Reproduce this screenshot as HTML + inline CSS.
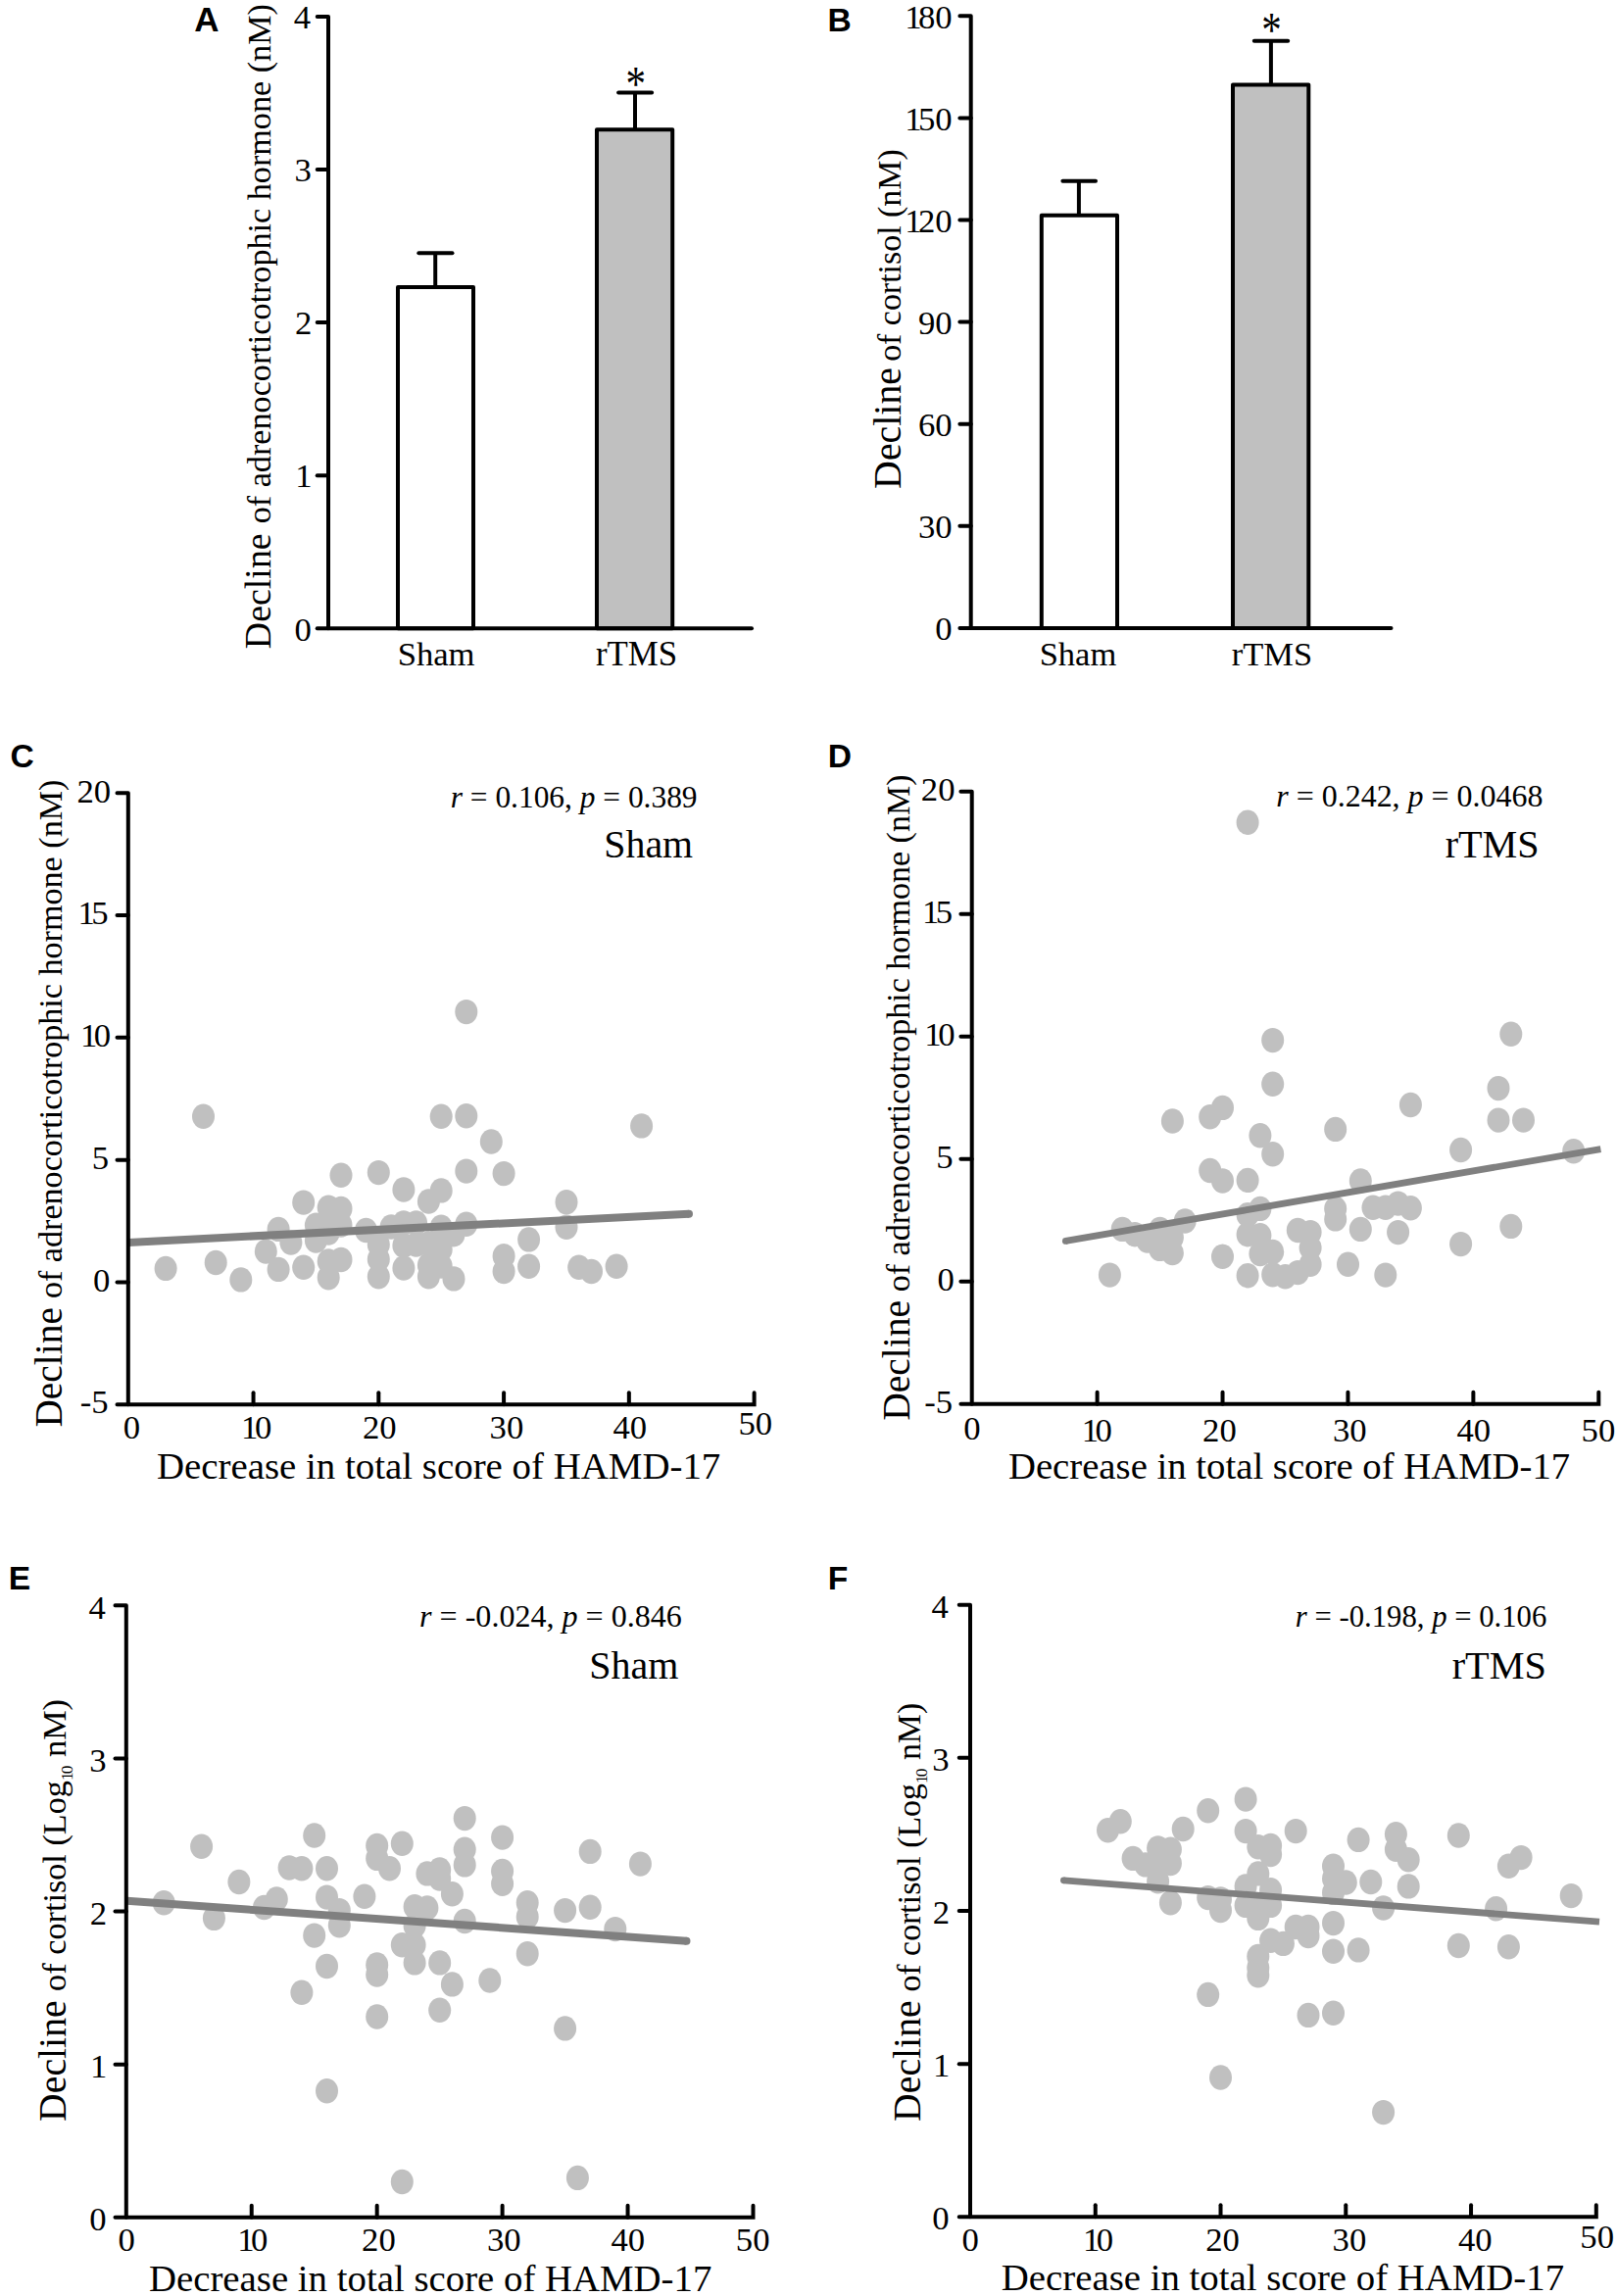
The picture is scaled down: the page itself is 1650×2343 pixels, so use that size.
<!DOCTYPE html>
<html lang="en"><head><meta charset="utf-8"><title>Figure</title>
<style>
html,body{margin:0;padding:0;background:#fff;}
body{width:1650px;height:2343px;overflow:hidden;}
svg{display:block;}
.ts{font-family:"Liberation Serif",serif;fill:#000;}
.ti{font-family:"Liberation Serif",serif;font-style:italic;fill:#000;}
.sb{font-family:"Liberation Sans",sans-serif;font-weight:bold;fill:#000;}
</style></head><body>
<svg width="1650" height="2343" viewBox="0 0 1650 2343">
<rect width="1650" height="2343" fill="#fff"/>
<text class="sb" x="198.32" y="32.30" font-size="35.00">A</text>
<text class="sb" x="844.43" y="32.40" font-size="33.60">B</text>
<text class="sb" x="10.56" y="782.70" font-size="33.60">C</text>
<text class="sb" x="844.63" y="782.90" font-size="33.60">D</text>
<text class="sb" x="8.63" y="1622.30" font-size="33.60">E</text>
<text class="sb" x="844.63" y="1621.80" font-size="33.60">F</text>
<path d="M323.70,16.90 H335.00 V641.30" fill="none" stroke="#000" stroke-width="4.0" stroke-linecap="round" stroke-linejoin="round"/>
<rect x="406.00" y="293.00" width="77.00" height="348.30" fill="#fff" stroke="#000" stroke-width="4.0" stroke-linejoin="round"/>
<rect x="609.00" y="132.20" width="77.20" height="509.10" fill="#c0c0c0" stroke="#000" stroke-width="4.0" stroke-linejoin="round"/>
<line x1="444.20" y1="293.00" x2="444.20" y2="258.20" stroke="#000" stroke-width="4.0" stroke-linecap="butt"/>
<line x1="427.30" y1="258.20" x2="461.50" y2="258.20" stroke="#000" stroke-width="4.0" stroke-linecap="round"/>
<line x1="648.00" y1="132.20" x2="648.00" y2="94.40" stroke="#000" stroke-width="4.0" stroke-linecap="butt"/>
<line x1="631.10" y1="94.40" x2="665.10" y2="94.40" stroke="#000" stroke-width="4.0" stroke-linecap="round"/>
<line x1="323.70" y1="641.30" x2="767.00" y2="641.30" stroke="#000" stroke-width="4.0" stroke-linecap="round"/>
<text class="ts" x="299.67" y="29.10" font-size="34.70">4</text>
<line x1="323.70" y1="173.00" x2="335.00" y2="173.00" stroke="#000" stroke-width="4.0" stroke-linecap="round"/>
<text class="ts" x="300.54" y="185.20" font-size="34.70">3</text>
<line x1="323.70" y1="329.10" x2="335.00" y2="329.10" stroke="#000" stroke-width="4.0" stroke-linecap="round"/>
<text class="ts" x="301.06" y="341.30" font-size="34.70">2</text>
<line x1="323.70" y1="485.20" x2="335.00" y2="485.20" stroke="#000" stroke-width="4.0" stroke-linecap="round"/>
<text class="ts" x="301.23" y="497.40" font-size="34.70">1</text>
<text class="ts" x="300.45" y="653.50" font-size="34.70">0</text>
<text class="ts" x="405.66" y="679.00" font-size="34.62">Sham</text>
<text class="ts" x="608.00" y="679.00" font-size="34.80">rTMS</text>
<text class="ts" transform="translate(648.70,102.10) scale(0.82,1)" text-anchor="middle" font-size="50.0">*</text>
<text class="ts" transform="translate(276.00,662.24) rotate(-90)" font-size="37.93">Decline</text>
<text class="ts" transform="translate(276.00,534.28) rotate(-90)" font-size="34.17">of adrenocorticotrophic hormone (nM)</text>
<path d="M979.40,16.30 H990.70 V640.90" fill="none" stroke="#000" stroke-width="4.0" stroke-linecap="round" stroke-linejoin="round"/>
<rect x="1062.80" y="219.70" width="77.20" height="421.20" fill="#fff" stroke="#000" stroke-width="4.0" stroke-linejoin="round"/>
<rect x="1258.00" y="86.60" width="77.30" height="554.30" fill="#c0c0c0" stroke="#000" stroke-width="4.0" stroke-linejoin="round"/>
<line x1="1100.90" y1="219.70" x2="1100.90" y2="184.80" stroke="#000" stroke-width="4.0" stroke-linecap="butt"/>
<line x1="1084.40" y1="184.80" x2="1118.00" y2="184.80" stroke="#000" stroke-width="4.0" stroke-linecap="round"/>
<line x1="1296.90" y1="86.60" x2="1296.90" y2="41.80" stroke="#000" stroke-width="4.0" stroke-linecap="butt"/>
<line x1="1279.80" y1="41.80" x2="1314.20" y2="41.80" stroke="#000" stroke-width="4.0" stroke-linecap="round"/>
<line x1="979.40" y1="640.90" x2="1419.50" y2="640.90" stroke="#000" stroke-width="4.0" stroke-linecap="round"/>
<text class="ts" x="923.15" y="28.50" font-size="34.70">1<tspan dx="-3.5">80</tspan></text>
<line x1="979.40" y1="120.40" x2="990.70" y2="120.40" stroke="#000" stroke-width="4.0" stroke-linecap="round"/>
<text class="ts" x="923.15" y="132.60" font-size="34.70">1<tspan dx="-3.5">50</tspan></text>
<line x1="979.40" y1="224.50" x2="990.70" y2="224.50" stroke="#000" stroke-width="4.0" stroke-linecap="round"/>
<text class="ts" x="923.15" y="236.70" font-size="34.70">1<tspan dx="-3.5">20</tspan></text>
<line x1="979.40" y1="328.60" x2="990.70" y2="328.60" stroke="#000" stroke-width="4.0" stroke-linecap="round"/>
<text class="ts" x="937.00" y="340.80" font-size="34.70">90</text>
<line x1="979.40" y1="432.70" x2="990.70" y2="432.70" stroke="#000" stroke-width="4.0" stroke-linecap="round"/>
<text class="ts" x="937.00" y="444.90" font-size="34.70">60</text>
<line x1="979.40" y1="536.80" x2="990.70" y2="536.80" stroke="#000" stroke-width="4.0" stroke-linecap="round"/>
<text class="ts" x="937.00" y="549.00" font-size="34.70">30</text>
<text class="ts" x="954.35" y="653.10" font-size="34.70">0</text>
<text class="ts" x="1060.67" y="679.00" font-size="34.49">Sham</text>
<text class="ts" x="1256.81" y="679.00" font-size="34.45">rTMS</text>
<text class="ts" transform="translate(1297.50,47.40) scale(0.82,1)" text-anchor="middle" font-size="50.0">*</text>
<text class="ts" transform="translate(918.60,498.90) rotate(-90)" font-size="39.87">Decline</text>
<text class="ts" transform="translate(918.60,368.87) rotate(-90)" font-size="33.91">of cortisol (nM)</text>
<ellipse cx="169.1" cy="1294.4" rx="11.5" ry="12.7" fill="#c0c0c0"/>
<ellipse cx="207.5" cy="1139.2" rx="11.5" ry="12.7" fill="#c0c0c0"/>
<ellipse cx="220.2" cy="1288.5" rx="11.5" ry="12.7" fill="#c0c0c0"/>
<ellipse cx="245.8" cy="1305.9" rx="11.5" ry="12.7" fill="#c0c0c0"/>
<ellipse cx="271.3" cy="1277.1" rx="11.5" ry="12.7" fill="#c0c0c0"/>
<ellipse cx="284.1" cy="1254.4" rx="11.5" ry="12.7" fill="#c0c0c0"/>
<ellipse cx="284.1" cy="1295.4" rx="11.5" ry="12.7" fill="#c0c0c0"/>
<ellipse cx="296.9" cy="1268.1" rx="11.5" ry="12.7" fill="#c0c0c0"/>
<ellipse cx="309.7" cy="1227.1" rx="11.5" ry="12.7" fill="#c0c0c0"/>
<ellipse cx="309.7" cy="1293.3" rx="11.5" ry="12.7" fill="#c0c0c0"/>
<ellipse cx="322.4" cy="1250.2" rx="11.5" ry="12.7" fill="#c0c0c0"/>
<ellipse cx="322.4" cy="1266.0" rx="11.5" ry="12.7" fill="#c0c0c0"/>
<ellipse cx="335.2" cy="1232.3" rx="11.5" ry="12.7" fill="#c0c0c0"/>
<ellipse cx="335.2" cy="1247.0" rx="11.5" ry="12.7" fill="#c0c0c0"/>
<ellipse cx="335.2" cy="1258.0" rx="11.5" ry="12.7" fill="#c0c0c0"/>
<ellipse cx="335.2" cy="1287.0" rx="11.5" ry="12.7" fill="#c0c0c0"/>
<ellipse cx="335.2" cy="1303.8" rx="11.5" ry="12.7" fill="#c0c0c0"/>
<ellipse cx="348.0" cy="1199.3" rx="11.5" ry="12.7" fill="#c0c0c0"/>
<ellipse cx="348.0" cy="1233.4" rx="11.5" ry="12.7" fill="#c0c0c0"/>
<ellipse cx="348.0" cy="1250.0" rx="11.5" ry="12.7" fill="#c0c0c0"/>
<ellipse cx="348.0" cy="1285.5" rx="11.5" ry="12.7" fill="#c0c0c0"/>
<ellipse cx="373.5" cy="1255.5" rx="11.5" ry="12.7" fill="#c0c0c0"/>
<ellipse cx="386.3" cy="1196.6" rx="11.5" ry="12.7" fill="#c0c0c0"/>
<ellipse cx="386.3" cy="1270.0" rx="11.5" ry="12.7" fill="#c0c0c0"/>
<ellipse cx="386.3" cy="1285.0" rx="11.5" ry="12.7" fill="#c0c0c0"/>
<ellipse cx="386.3" cy="1302.8" rx="11.5" ry="12.7" fill="#c0c0c0"/>
<ellipse cx="399.1" cy="1252.0" rx="11.5" ry="12.7" fill="#c0c0c0"/>
<ellipse cx="411.9" cy="1214.0" rx="11.5" ry="12.7" fill="#c0c0c0"/>
<ellipse cx="411.9" cy="1248.0" rx="11.5" ry="12.7" fill="#c0c0c0"/>
<ellipse cx="411.9" cy="1271.0" rx="11.5" ry="12.7" fill="#c0c0c0"/>
<ellipse cx="411.9" cy="1294.0" rx="11.5" ry="12.7" fill="#c0c0c0"/>
<ellipse cx="424.6" cy="1248.0" rx="11.5" ry="12.7" fill="#c0c0c0"/>
<ellipse cx="424.6" cy="1270.0" rx="11.5" ry="12.7" fill="#c0c0c0"/>
<ellipse cx="437.4" cy="1226.0" rx="11.5" ry="12.7" fill="#c0c0c0"/>
<ellipse cx="437.4" cy="1269.0" rx="11.5" ry="12.7" fill="#c0c0c0"/>
<ellipse cx="437.4" cy="1291.0" rx="11.5" ry="12.7" fill="#c0c0c0"/>
<ellipse cx="437.4" cy="1302.8" rx="11.5" ry="12.7" fill="#c0c0c0"/>
<ellipse cx="450.2" cy="1139.2" rx="11.5" ry="12.7" fill="#c0c0c0"/>
<ellipse cx="450.2" cy="1214.9" rx="11.5" ry="12.7" fill="#c0c0c0"/>
<ellipse cx="450.2" cy="1252.3" rx="11.5" ry="12.7" fill="#c0c0c0"/>
<ellipse cx="450.2" cy="1292.0" rx="11.5" ry="12.7" fill="#c0c0c0"/>
<ellipse cx="450.2" cy="1275.0" rx="11.5" ry="12.7" fill="#c0c0c0"/>
<ellipse cx="463.0" cy="1259.7" rx="11.5" ry="12.7" fill="#c0c0c0"/>
<ellipse cx="463.0" cy="1304.9" rx="11.5" ry="12.7" fill="#c0c0c0"/>
<ellipse cx="475.8" cy="1032.6" rx="11.5" ry="12.7" fill="#c0c0c0"/>
<ellipse cx="475.8" cy="1138.8" rx="11.5" ry="12.7" fill="#c0c0c0"/>
<ellipse cx="475.8" cy="1195.1" rx="11.5" ry="12.7" fill="#c0c0c0"/>
<ellipse cx="475.8" cy="1249.2" rx="11.5" ry="12.7" fill="#c0c0c0"/>
<ellipse cx="501.3" cy="1165.0" rx="11.5" ry="12.7" fill="#c0c0c0"/>
<ellipse cx="514.1" cy="1197.6" rx="11.5" ry="12.7" fill="#c0c0c0"/>
<ellipse cx="514.1" cy="1281.7" rx="11.5" ry="12.7" fill="#c0c0c0"/>
<ellipse cx="514.1" cy="1297.5" rx="11.5" ry="12.7" fill="#c0c0c0"/>
<ellipse cx="539.6" cy="1264.9" rx="11.5" ry="12.7" fill="#c0c0c0"/>
<ellipse cx="539.6" cy="1292.3" rx="11.5" ry="12.7" fill="#c0c0c0"/>
<ellipse cx="578.0" cy="1226.7" rx="11.5" ry="12.7" fill="#c0c0c0"/>
<ellipse cx="578.0" cy="1252.3" rx="11.5" ry="12.7" fill="#c0c0c0"/>
<ellipse cx="590.7" cy="1293.3" rx="11.5" ry="12.7" fill="#c0c0c0"/>
<ellipse cx="603.5" cy="1297.5" rx="11.5" ry="12.7" fill="#c0c0c0"/>
<ellipse cx="629.1" cy="1292.3" rx="11.5" ry="12.7" fill="#c0c0c0"/>
<ellipse cx="654.6" cy="1148.9" rx="11.5" ry="12.7" fill="#c0c0c0"/>
<circle cx="703.01" cy="1238.70" r="4.0" fill="#808080"/>
<line x1="131.00" y1="1267.90" x2="703.01" y2="1238.70" stroke="#808080" stroke-width="8" stroke-linecap="butt"/>
<path d="M119.50,809.30 H130.80 V1433.20" fill="none" stroke="#000" stroke-width="4.0" stroke-linecap="round" stroke-linejoin="round"/>
<path d="M119.50,1433.20 H769.60 V1421.20" fill="none" stroke="#000" stroke-width="4.0" stroke-linecap="round" stroke-linejoin="miter"/>
<text class="ts" x="78.40" y="818.50" font-size="34.70">20</text>
<line x1="119.50" y1="934.08" x2="130.80" y2="934.08" stroke="#000" stroke-width="4.0" stroke-linecap="round"/>
<text class="ts" x="79.49" y="943.28" font-size="34.70">1<tspan dx="-3.5">5</tspan></text>
<line x1="119.50" y1="1058.86" x2="130.80" y2="1058.86" stroke="#000" stroke-width="4.0" stroke-linecap="round"/>
<text class="ts" x="81.90" y="1068.06" font-size="34.70">1<tspan dx="-3.5">0</tspan></text>
<line x1="119.50" y1="1183.64" x2="130.80" y2="1183.64" stroke="#000" stroke-width="4.0" stroke-linecap="round"/>
<text class="ts" x="93.84" y="1192.84" font-size="34.70">5</text>
<line x1="119.50" y1="1308.42" x2="130.80" y2="1308.42" stroke="#000" stroke-width="4.0" stroke-linecap="round"/>
<text class="ts" x="95.05" y="1317.62" font-size="34.70">0</text>
<text class="ts" x="81.80" y="1442.40" font-size="34.70">-5</text>
<text class="ts" x="125.63" y="1468.30" font-size="34.70">0</text>
<line x1="258.56" y1="1433.20" x2="258.56" y2="1421.20" stroke="#000" stroke-width="4.0" stroke-linecap="round"/>
<text class="ts" x="246.09" y="1468.30" font-size="34.70">1<tspan dx="-3.5">0</tspan></text>
<line x1="386.32" y1="1433.20" x2="386.32" y2="1421.20" stroke="#000" stroke-width="4.0" stroke-linecap="round"/>
<text class="ts" x="369.88" y="1468.30" font-size="34.70">20</text>
<line x1="514.08" y1="1433.20" x2="514.08" y2="1421.20" stroke="#000" stroke-width="4.0" stroke-linecap="round"/>
<text class="ts" x="499.56" y="1468.30" font-size="34.70">30</text>
<line x1="641.84" y1="1433.20" x2="641.84" y2="1421.20" stroke="#000" stroke-width="4.0" stroke-linecap="round"/>
<text class="ts" x="625.39" y="1468.30" font-size="34.70">40</text>
<text class="ts" x="753.50" y="1464.30" font-size="34.70">50</text>
<text class="ts" x="159.93" y="1508.90" font-size="38.89">Decrease in total score of HAMD-17</text>
<text class="ts" transform="translate(62.50,1456.58) rotate(-90)" font-size="39.38">Decline</text>
<text class="ts" transform="translate(62.50,1325.08) rotate(-90)" font-size="34.12">of adrenocorticotrophic hormone (nM)</text>
<text class="ts" x="459.74" y="824.40" font-size="31.42" xml:space="preserve"><tspan class="ti">r</tspan> = 0.106, <tspan class="ti">p</tspan> = 0.389</text>
<text class="ts" x="616.31" y="875.10" font-size="39.86">Sham</text>
<ellipse cx="1273.1" cy="839.2" rx="11.5" ry="12.7" fill="#c0c0c0"/>
<ellipse cx="1298.7" cy="1061.6" rx="11.5" ry="12.7" fill="#c0c0c0"/>
<ellipse cx="1298.7" cy="1106.2" rx="11.5" ry="12.7" fill="#c0c0c0"/>
<ellipse cx="1247.5" cy="1130.4" rx="11.5" ry="12.7" fill="#c0c0c0"/>
<ellipse cx="1234.7" cy="1139.8" rx="11.5" ry="12.7" fill="#c0c0c0"/>
<ellipse cx="1196.4" cy="1144.0" rx="11.5" ry="12.7" fill="#c0c0c0"/>
<ellipse cx="1285.9" cy="1158.7" rx="11.5" ry="12.7" fill="#c0c0c0"/>
<ellipse cx="1298.7" cy="1177.7" rx="11.5" ry="12.7" fill="#c0c0c0"/>
<ellipse cx="1362.7" cy="1152.4" rx="11.5" ry="12.7" fill="#c0c0c0"/>
<ellipse cx="1234.7" cy="1194.5" rx="11.5" ry="12.7" fill="#c0c0c0"/>
<ellipse cx="1247.5" cy="1205.0" rx="11.5" ry="12.7" fill="#c0c0c0"/>
<ellipse cx="1273.1" cy="1204.4" rx="11.5" ry="12.7" fill="#c0c0c0"/>
<ellipse cx="1388.3" cy="1205.0" rx="11.5" ry="12.7" fill="#c0c0c0"/>
<ellipse cx="1285.9" cy="1233.4" rx="11.5" ry="12.7" fill="#c0c0c0"/>
<ellipse cx="1273.1" cy="1239.7" rx="11.5" ry="12.7" fill="#c0c0c0"/>
<ellipse cx="1209.2" cy="1246.0" rx="11.5" ry="12.7" fill="#c0c0c0"/>
<ellipse cx="1145.2" cy="1254.4" rx="11.5" ry="12.7" fill="#c0c0c0"/>
<ellipse cx="1158.0" cy="1259.7" rx="11.5" ry="12.7" fill="#c0c0c0"/>
<ellipse cx="1170.8" cy="1266.0" rx="11.5" ry="12.7" fill="#c0c0c0"/>
<ellipse cx="1183.6" cy="1254.4" rx="11.5" ry="12.7" fill="#c0c0c0"/>
<ellipse cx="1183.6" cy="1274.4" rx="11.5" ry="12.7" fill="#c0c0c0"/>
<ellipse cx="1196.4" cy="1262.8" rx="11.5" ry="12.7" fill="#c0c0c0"/>
<ellipse cx="1196.4" cy="1278.6" rx="11.5" ry="12.7" fill="#c0c0c0"/>
<ellipse cx="1132.4" cy="1301.1" rx="11.5" ry="12.7" fill="#c0c0c0"/>
<ellipse cx="1247.5" cy="1282.2" rx="11.5" ry="12.7" fill="#c0c0c0"/>
<ellipse cx="1273.1" cy="1259.7" rx="11.5" ry="12.7" fill="#c0c0c0"/>
<ellipse cx="1285.9" cy="1260.7" rx="11.5" ry="12.7" fill="#c0c0c0"/>
<ellipse cx="1285.9" cy="1279.6" rx="11.5" ry="12.7" fill="#c0c0c0"/>
<ellipse cx="1298.7" cy="1277.5" rx="11.5" ry="12.7" fill="#c0c0c0"/>
<ellipse cx="1273.1" cy="1301.7" rx="11.5" ry="12.7" fill="#c0c0c0"/>
<ellipse cx="1298.7" cy="1300.7" rx="11.5" ry="12.7" fill="#c0c0c0"/>
<ellipse cx="1311.5" cy="1302.8" rx="11.5" ry="12.7" fill="#c0c0c0"/>
<ellipse cx="1324.3" cy="1298.6" rx="11.5" ry="12.7" fill="#c0c0c0"/>
<ellipse cx="1337.1" cy="1290.2" rx="11.5" ry="12.7" fill="#c0c0c0"/>
<ellipse cx="1337.1" cy="1273.3" rx="11.5" ry="12.7" fill="#c0c0c0"/>
<ellipse cx="1337.1" cy="1257.6" rx="11.5" ry="12.7" fill="#c0c0c0"/>
<ellipse cx="1324.3" cy="1255.5" rx="11.5" ry="12.7" fill="#c0c0c0"/>
<ellipse cx="1362.7" cy="1233.4" rx="11.5" ry="12.7" fill="#c0c0c0"/>
<ellipse cx="1362.7" cy="1243.9" rx="11.5" ry="12.7" fill="#c0c0c0"/>
<ellipse cx="1375.5" cy="1290.2" rx="11.5" ry="12.7" fill="#c0c0c0"/>
<ellipse cx="1388.3" cy="1254.4" rx="11.5" ry="12.7" fill="#c0c0c0"/>
<ellipse cx="1401.0" cy="1232.3" rx="11.5" ry="12.7" fill="#c0c0c0"/>
<ellipse cx="1413.8" cy="1232.3" rx="11.5" ry="12.7" fill="#c0c0c0"/>
<ellipse cx="1426.6" cy="1228.1" rx="11.5" ry="12.7" fill="#c0c0c0"/>
<ellipse cx="1413.8" cy="1301.1" rx="11.5" ry="12.7" fill="#c0c0c0"/>
<ellipse cx="1426.6" cy="1257.6" rx="11.5" ry="12.7" fill="#c0c0c0"/>
<ellipse cx="1439.4" cy="1127.5" rx="11.5" ry="12.7" fill="#c0c0c0"/>
<ellipse cx="1439.4" cy="1232.7" rx="11.5" ry="12.7" fill="#c0c0c0"/>
<ellipse cx="1529.0" cy="1110.6" rx="11.5" ry="12.7" fill="#c0c0c0"/>
<ellipse cx="1541.8" cy="1055.2" rx="11.5" ry="12.7" fill="#c0c0c0"/>
<ellipse cx="1529.0" cy="1143.1" rx="11.5" ry="12.7" fill="#c0c0c0"/>
<ellipse cx="1554.5" cy="1143.1" rx="11.5" ry="12.7" fill="#c0c0c0"/>
<ellipse cx="1490.6" cy="1173.5" rx="11.5" ry="12.7" fill="#c0c0c0"/>
<ellipse cx="1605.7" cy="1174.8" rx="11.5" ry="12.7" fill="#c0c0c0"/>
<ellipse cx="1541.8" cy="1251.4" rx="11.5" ry="12.7" fill="#c0c0c0"/>
<ellipse cx="1490.6" cy="1269.6" rx="11.5" ry="12.7" fill="#c0c0c0"/>
<circle cx="1087.35" cy="1266.42" r="3.4" fill="#808080"/>
<line x1="1087.35" y1="1266.42" x2="1633.40" y2="1172.60" stroke="#808080" stroke-width="6.8" stroke-linecap="butt"/>
<path d="M980.40,807.80 H991.70 V1432.70" fill="none" stroke="#000" stroke-width="4.0" stroke-linecap="round" stroke-linejoin="round"/>
<path d="M980.40,1432.70 H1631.30 V1420.70" fill="none" stroke="#000" stroke-width="4.0" stroke-linecap="round" stroke-linejoin="miter"/>
<text class="ts" x="939.80" y="816.90" font-size="34.70">20</text>
<line x1="980.40" y1="932.78" x2="991.70" y2="932.78" stroke="#000" stroke-width="4.0" stroke-linecap="round"/>
<text class="ts" x="940.89" y="941.88" font-size="34.70">1<tspan dx="-3.5">5</tspan></text>
<line x1="980.40" y1="1057.76" x2="991.70" y2="1057.76" stroke="#000" stroke-width="4.0" stroke-linecap="round"/>
<text class="ts" x="943.30" y="1066.86" font-size="34.70">1<tspan dx="-3.5">0</tspan></text>
<line x1="980.40" y1="1182.74" x2="991.70" y2="1182.74" stroke="#000" stroke-width="4.0" stroke-linecap="round"/>
<text class="ts" x="955.24" y="1191.84" font-size="34.70">5</text>
<line x1="980.40" y1="1307.72" x2="991.70" y2="1307.72" stroke="#000" stroke-width="4.0" stroke-linecap="round"/>
<text class="ts" x="956.45" y="1316.82" font-size="34.70">0</text>
<text class="ts" x="943.20" y="1441.80" font-size="34.70">-5</text>
<text class="ts" x="983.23" y="1469.00" font-size="34.70">0</text>
<line x1="1119.62" y1="1432.70" x2="1119.62" y2="1420.70" stroke="#000" stroke-width="4.0" stroke-linecap="round"/>
<text class="ts" x="1103.65" y="1470.50" font-size="34.70">1<tspan dx="-3.5">0</tspan></text>
<line x1="1247.54" y1="1432.70" x2="1247.54" y2="1420.70" stroke="#000" stroke-width="4.0" stroke-linecap="round"/>
<text class="ts" x="1227.10" y="1470.50" font-size="34.70">20</text>
<line x1="1375.46" y1="1432.70" x2="1375.46" y2="1420.70" stroke="#000" stroke-width="4.0" stroke-linecap="round"/>
<text class="ts" x="1359.94" y="1470.50" font-size="34.70">30</text>
<line x1="1503.38" y1="1432.70" x2="1503.38" y2="1420.70" stroke="#000" stroke-width="4.0" stroke-linecap="round"/>
<text class="ts" x="1486.43" y="1470.50" font-size="34.70">40</text>
<text class="ts" x="1613.60" y="1470.50" font-size="34.70">50</text>
<text class="ts" x="1028.93" y="1508.80" font-size="38.74">Decrease in total score of HAMD-17</text>
<text class="ts" transform="translate(927.80,1449.79) rotate(-90)" font-size="39.47">Decline</text>
<text class="ts" transform="translate(927.80,1318.28) rotate(-90)" font-size="34.01">of adrenocorticotrophic hormone (nM)</text>
<text class="ts" x="1302.22" y="823.10" font-size="31.98" xml:space="preserve"><tspan class="ti">r</tspan> = 0.242, <tspan class="ti">p</tspan> = 0.0468</text>
<text class="ts" x="1474.70" y="874.50" font-size="40.17">rTMS</text>
<ellipse cx="167.2" cy="1941.8" rx="11.5" ry="12.7" fill="#c0c0c0"/>
<ellipse cx="205.6" cy="1884.2" rx="11.5" ry="12.7" fill="#c0c0c0"/>
<ellipse cx="218.4" cy="1957.4" rx="11.5" ry="12.7" fill="#c0c0c0"/>
<ellipse cx="243.9" cy="1920.5" rx="11.5" ry="12.7" fill="#c0c0c0"/>
<ellipse cx="269.5" cy="1946.5" rx="11.5" ry="12.7" fill="#c0c0c0"/>
<ellipse cx="282.3" cy="1937.9" rx="11.5" ry="12.7" fill="#c0c0c0"/>
<ellipse cx="295.1" cy="1906.0" rx="11.5" ry="12.7" fill="#c0c0c0"/>
<ellipse cx="307.9" cy="1906.8" rx="11.5" ry="12.7" fill="#c0c0c0"/>
<ellipse cx="320.7" cy="1873.0" rx="11.5" ry="12.7" fill="#c0c0c0"/>
<ellipse cx="333.5" cy="1906.8" rx="11.5" ry="12.7" fill="#c0c0c0"/>
<ellipse cx="333.5" cy="1936.1" rx="11.5" ry="12.7" fill="#c0c0c0"/>
<ellipse cx="346.3" cy="1949.6" rx="11.5" ry="12.7" fill="#c0c0c0"/>
<ellipse cx="346.3" cy="1964.7" rx="11.5" ry="12.7" fill="#c0c0c0"/>
<ellipse cx="320.7" cy="1975.1" rx="11.5" ry="12.7" fill="#c0c0c0"/>
<ellipse cx="371.9" cy="1935.3" rx="11.5" ry="12.7" fill="#c0c0c0"/>
<ellipse cx="384.7" cy="1883.4" rx="11.5" ry="12.7" fill="#c0c0c0"/>
<ellipse cx="384.7" cy="1896.4" rx="11.5" ry="12.7" fill="#c0c0c0"/>
<ellipse cx="397.5" cy="1906.8" rx="11.5" ry="12.7" fill="#c0c0c0"/>
<ellipse cx="410.3" cy="1881.3" rx="11.5" ry="12.7" fill="#c0c0c0"/>
<ellipse cx="333.5" cy="2006.5" rx="11.5" ry="12.7" fill="#c0c0c0"/>
<ellipse cx="384.7" cy="2005.0" rx="11.5" ry="12.7" fill="#c0c0c0"/>
<ellipse cx="384.7" cy="2015.0" rx="11.5" ry="12.7" fill="#c0c0c0"/>
<ellipse cx="307.9" cy="2033.3" rx="11.5" ry="12.7" fill="#c0c0c0"/>
<ellipse cx="384.7" cy="2058.0" rx="11.5" ry="12.7" fill="#c0c0c0"/>
<ellipse cx="333.5" cy="2133.8" rx="11.5" ry="12.7" fill="#c0c0c0"/>
<ellipse cx="410.3" cy="2226.5" rx="11.5" ry="12.7" fill="#c0c0c0"/>
<ellipse cx="474.2" cy="1855.6" rx="11.5" ry="12.7" fill="#c0c0c0"/>
<ellipse cx="512.6" cy="1875.1" rx="11.5" ry="12.7" fill="#c0c0c0"/>
<ellipse cx="474.2" cy="1887.3" rx="11.5" ry="12.7" fill="#c0c0c0"/>
<ellipse cx="474.2" cy="1902.9" rx="11.5" ry="12.7" fill="#c0c0c0"/>
<ellipse cx="435.9" cy="1911.9" rx="11.5" ry="12.7" fill="#c0c0c0"/>
<ellipse cx="448.7" cy="1908.0" rx="11.5" ry="12.7" fill="#c0c0c0"/>
<ellipse cx="448.7" cy="1917.0" rx="11.5" ry="12.7" fill="#c0c0c0"/>
<ellipse cx="461.4" cy="1932.7" rx="11.5" ry="12.7" fill="#c0c0c0"/>
<ellipse cx="512.6" cy="1909.4" rx="11.5" ry="12.7" fill="#c0c0c0"/>
<ellipse cx="512.6" cy="1922.3" rx="11.5" ry="12.7" fill="#c0c0c0"/>
<ellipse cx="602.2" cy="1889.4" rx="11.5" ry="12.7" fill="#c0c0c0"/>
<ellipse cx="653.4" cy="1902.1" rx="11.5" ry="12.7" fill="#c0c0c0"/>
<ellipse cx="538.2" cy="1941.8" rx="11.5" ry="12.7" fill="#c0c0c0"/>
<ellipse cx="538.2" cy="1956.1" rx="11.5" ry="12.7" fill="#c0c0c0"/>
<ellipse cx="576.6" cy="1949.6" rx="11.5" ry="12.7" fill="#c0c0c0"/>
<ellipse cx="602.2" cy="1946.2" rx="11.5" ry="12.7" fill="#c0c0c0"/>
<ellipse cx="627.8" cy="1968.6" rx="11.5" ry="12.7" fill="#c0c0c0"/>
<ellipse cx="423.1" cy="1945.7" rx="11.5" ry="12.7" fill="#c0c0c0"/>
<ellipse cx="435.9" cy="1947.0" rx="11.5" ry="12.7" fill="#c0c0c0"/>
<ellipse cx="474.2" cy="1960.5" rx="11.5" ry="12.7" fill="#c0c0c0"/>
<ellipse cx="423.1" cy="1965.2" rx="11.5" ry="12.7" fill="#c0c0c0"/>
<ellipse cx="410.3" cy="1984.7" rx="11.5" ry="12.7" fill="#c0c0c0"/>
<ellipse cx="423.1" cy="1984.7" rx="11.5" ry="12.7" fill="#c0c0c0"/>
<ellipse cx="423.1" cy="2002.9" rx="11.5" ry="12.7" fill="#c0c0c0"/>
<ellipse cx="448.7" cy="2002.9" rx="11.5" ry="12.7" fill="#c0c0c0"/>
<ellipse cx="538.2" cy="1993.8" rx="11.5" ry="12.7" fill="#c0c0c0"/>
<ellipse cx="461.4" cy="2024.9" rx="11.5" ry="12.7" fill="#c0c0c0"/>
<ellipse cx="499.8" cy="2021.0" rx="11.5" ry="12.7" fill="#c0c0c0"/>
<ellipse cx="576.6" cy="2069.9" rx="11.5" ry="12.7" fill="#c0c0c0"/>
<ellipse cx="589.4" cy="2222.4" rx="11.5" ry="12.7" fill="#c0c0c0"/>
<ellipse cx="448.7" cy="2051.2" rx="11.5" ry="12.7" fill="#c0c0c0"/>
<circle cx="700.51" cy="1980.81" r="4.0" fill="#808080"/>
<line x1="129.50" y1="1939.70" x2="700.51" y2="1980.81" stroke="#808080" stroke-width="8" stroke-linecap="butt"/>
<path d="M117.50,1638.30 H128.80 V2262.80" fill="none" stroke="#000" stroke-width="4.0" stroke-linecap="round" stroke-linejoin="round"/>
<path d="M117.50,2262.80 H768.50 V2250.80" fill="none" stroke="#000" stroke-width="4.0" stroke-linecap="round" stroke-linejoin="miter"/>
<text class="ts" x="90.47" y="1651.60" font-size="34.70">4</text>
<line x1="117.50" y1="1794.42" x2="128.80" y2="1794.42" stroke="#000" stroke-width="4.0" stroke-linecap="round"/>
<text class="ts" x="91.34" y="1807.72" font-size="34.70">3</text>
<line x1="117.50" y1="1950.55" x2="128.80" y2="1950.55" stroke="#000" stroke-width="4.0" stroke-linecap="round"/>
<text class="ts" x="91.86" y="1963.85" font-size="34.70">2</text>
<line x1="117.50" y1="2106.68" x2="128.80" y2="2106.68" stroke="#000" stroke-width="4.0" stroke-linecap="round"/>
<text class="ts" x="92.03" y="2119.98" font-size="34.70">1</text>
<text class="ts" x="91.25" y="2276.10" font-size="34.70">0</text>
<text class="ts" x="120.43" y="2297.20" font-size="34.70">0</text>
<line x1="256.74" y1="2262.80" x2="256.74" y2="2250.80" stroke="#000" stroke-width="4.0" stroke-linecap="round"/>
<text class="ts" x="242.17" y="2297.20" font-size="34.70">1<tspan dx="-3.5">0</tspan></text>
<line x1="384.68" y1="2262.80" x2="384.68" y2="2250.80" stroke="#000" stroke-width="4.0" stroke-linecap="round"/>
<text class="ts" x="369.04" y="2297.20" font-size="34.70">20</text>
<line x1="512.62" y1="2262.80" x2="512.62" y2="2250.80" stroke="#000" stroke-width="4.0" stroke-linecap="round"/>
<text class="ts" x="497.00" y="2297.20" font-size="34.70">30</text>
<line x1="640.56" y1="2262.80" x2="640.56" y2="2250.80" stroke="#000" stroke-width="4.0" stroke-linecap="round"/>
<text class="ts" x="623.51" y="2297.20" font-size="34.70">40</text>
<text class="ts" x="750.80" y="2297.20" font-size="34.70">50</text>
<text class="ts" x="151.93" y="2337.80" font-size="38.82">Decrease in total score of HAMD-17</text>
<text class="ts" transform="translate(67.30,2164.89) rotate(-90)" font-size="39.74">Decline</text>
<text class="ts" transform="translate(67.30,2031.88) rotate(-90)" font-size="34.24" xml:space="preserve">of cortisol (Log<tspan font-size="17.5" dy="6.3">1<tspan dx="-2.0">0</tspan></tspan><tspan dy="-6.3"> nM)</tspan></text>
<text class="ts" x="428.12" y="1660.00" font-size="32.05" xml:space="preserve"><tspan class="ti">r</tspan> = -0.024, <tspan class="ti">p</tspan> = 0.846</text>
<text class="ts" x="601.20" y="1713.20" font-size="40.00">Sham</text>
<ellipse cx="1130.5" cy="1867.8" rx="11.5" ry="12.7" fill="#c0c0c0"/>
<ellipse cx="1143.3" cy="1858.7" rx="11.5" ry="12.7" fill="#c0c0c0"/>
<ellipse cx="1156.1" cy="1896.4" rx="11.5" ry="12.7" fill="#c0c0c0"/>
<ellipse cx="1168.9" cy="1902.9" rx="11.5" ry="12.7" fill="#c0c0c0"/>
<ellipse cx="1181.6" cy="1886.0" rx="11.5" ry="12.7" fill="#c0c0c0"/>
<ellipse cx="1181.6" cy="1900.0" rx="11.5" ry="12.7" fill="#c0c0c0"/>
<ellipse cx="1181.6" cy="1919.7" rx="11.5" ry="12.7" fill="#c0c0c0"/>
<ellipse cx="1194.4" cy="1887.3" rx="11.5" ry="12.7" fill="#c0c0c0"/>
<ellipse cx="1194.4" cy="1901.6" rx="11.5" ry="12.7" fill="#c0c0c0"/>
<ellipse cx="1194.4" cy="1941.8" rx="11.5" ry="12.7" fill="#c0c0c0"/>
<ellipse cx="1207.2" cy="1866.5" rx="11.5" ry="12.7" fill="#c0c0c0"/>
<ellipse cx="1232.7" cy="1847.8" rx="11.5" ry="12.7" fill="#c0c0c0"/>
<ellipse cx="1232.7" cy="1936.6" rx="11.5" ry="12.7" fill="#c0c0c0"/>
<ellipse cx="1232.7" cy="2035.4" rx="11.5" ry="12.7" fill="#c0c0c0"/>
<ellipse cx="1271.1" cy="1836.1" rx="11.5" ry="12.7" fill="#c0c0c0"/>
<ellipse cx="1271.1" cy="1868.6" rx="11.5" ry="12.7" fill="#c0c0c0"/>
<ellipse cx="1322.2" cy="1868.6" rx="11.5" ry="12.7" fill="#c0c0c0"/>
<ellipse cx="1283.8" cy="1884.7" rx="11.5" ry="12.7" fill="#c0c0c0"/>
<ellipse cx="1296.6" cy="1883.4" rx="11.5" ry="12.7" fill="#c0c0c0"/>
<ellipse cx="1296.6" cy="1892.5" rx="11.5" ry="12.7" fill="#c0c0c0"/>
<ellipse cx="1386.1" cy="1877.4" rx="11.5" ry="12.7" fill="#c0c0c0"/>
<ellipse cx="1424.4" cy="1871.7" rx="11.5" ry="12.7" fill="#c0c0c0"/>
<ellipse cx="1424.4" cy="1887.3" rx="11.5" ry="12.7" fill="#c0c0c0"/>
<ellipse cx="1437.2" cy="1897.7" rx="11.5" ry="12.7" fill="#c0c0c0"/>
<ellipse cx="1488.3" cy="1873.0" rx="11.5" ry="12.7" fill="#c0c0c0"/>
<ellipse cx="1539.4" cy="1904.2" rx="11.5" ry="12.7" fill="#c0c0c0"/>
<ellipse cx="1552.1" cy="1895.6" rx="11.5" ry="12.7" fill="#c0c0c0"/>
<ellipse cx="1360.5" cy="1904.2" rx="11.5" ry="12.7" fill="#c0c0c0"/>
<ellipse cx="1360.5" cy="1917.1" rx="11.5" ry="12.7" fill="#c0c0c0"/>
<ellipse cx="1373.3" cy="1921.0" rx="11.5" ry="12.7" fill="#c0c0c0"/>
<ellipse cx="1398.8" cy="1920.5" rx="11.5" ry="12.7" fill="#c0c0c0"/>
<ellipse cx="1437.2" cy="1924.9" rx="11.5" ry="12.7" fill="#c0c0c0"/>
<ellipse cx="1283.8" cy="1911.9" rx="11.5" ry="12.7" fill="#c0c0c0"/>
<ellipse cx="1271.1" cy="1924.9" rx="11.5" ry="12.7" fill="#c0c0c0"/>
<ellipse cx="1296.6" cy="1928.8" rx="11.5" ry="12.7" fill="#c0c0c0"/>
<ellipse cx="1360.5" cy="1931.4" rx="11.5" ry="12.7" fill="#c0c0c0"/>
<ellipse cx="1603.2" cy="1934.6" rx="11.5" ry="12.7" fill="#c0c0c0"/>
<ellipse cx="1245.5" cy="1937.9" rx="11.5" ry="12.7" fill="#c0c0c0"/>
<ellipse cx="1245.5" cy="1949.6" rx="11.5" ry="12.7" fill="#c0c0c0"/>
<ellipse cx="1271.1" cy="1944.4" rx="11.5" ry="12.7" fill="#c0c0c0"/>
<ellipse cx="1283.8" cy="1944.4" rx="11.5" ry="12.7" fill="#c0c0c0"/>
<ellipse cx="1296.6" cy="1944.4" rx="11.5" ry="12.7" fill="#c0c0c0"/>
<ellipse cx="1411.6" cy="1947.0" rx="11.5" ry="12.7" fill="#c0c0c0"/>
<ellipse cx="1526.6" cy="1947.8" rx="11.5" ry="12.7" fill="#c0c0c0"/>
<ellipse cx="1283.8" cy="1957.4" rx="11.5" ry="12.7" fill="#c0c0c0"/>
<ellipse cx="1360.5" cy="1962.6" rx="11.5" ry="12.7" fill="#c0c0c0"/>
<ellipse cx="1322.2" cy="1966.5" rx="11.5" ry="12.7" fill="#c0c0c0"/>
<ellipse cx="1335.0" cy="1966.5" rx="11.5" ry="12.7" fill="#c0c0c0"/>
<ellipse cx="1335.0" cy="1975.6" rx="11.5" ry="12.7" fill="#c0c0c0"/>
<ellipse cx="1296.6" cy="1980.3" rx="11.5" ry="12.7" fill="#c0c0c0"/>
<ellipse cx="1309.4" cy="1983.4" rx="11.5" ry="12.7" fill="#c0c0c0"/>
<ellipse cx="1360.5" cy="1991.2" rx="11.5" ry="12.7" fill="#c0c0c0"/>
<ellipse cx="1386.1" cy="1989.9" rx="11.5" ry="12.7" fill="#c0c0c0"/>
<ellipse cx="1488.3" cy="1985.5" rx="11.5" ry="12.7" fill="#c0c0c0"/>
<ellipse cx="1539.4" cy="1986.8" rx="11.5" ry="12.7" fill="#c0c0c0"/>
<ellipse cx="1283.8" cy="1996.4" rx="11.5" ry="12.7" fill="#c0c0c0"/>
<ellipse cx="1283.8" cy="2008.0" rx="11.5" ry="12.7" fill="#c0c0c0"/>
<ellipse cx="1283.8" cy="2015.8" rx="11.5" ry="12.7" fill="#c0c0c0"/>
<ellipse cx="1245.5" cy="2120.0" rx="11.5" ry="12.7" fill="#c0c0c0"/>
<ellipse cx="1411.6" cy="2155.6" rx="11.5" ry="12.7" fill="#c0c0c0"/>
<ellipse cx="1335.0" cy="2056.4" rx="11.5" ry="12.7" fill="#c0c0c0"/>
<ellipse cx="1360.5" cy="2054.3" rx="11.5" ry="12.7" fill="#c0c0c0"/>
<circle cx="1085.39" cy="1918.86" r="3.4" fill="#808080"/>
<line x1="1085.39" y1="1918.86" x2="1632.00" y2="1961.20" stroke="#808080" stroke-width="6.8" stroke-linecap="butt"/>
<path d="M978.70,1637.70 H990.00 V2262.30" fill="none" stroke="#000" stroke-width="4.0" stroke-linecap="round" stroke-linejoin="round"/>
<path d="M978.70,2262.30 H1628.80 V2250.30" fill="none" stroke="#000" stroke-width="4.0" stroke-linecap="round" stroke-linejoin="miter"/>
<text class="ts" x="950.47" y="1650.60" font-size="34.70">4</text>
<line x1="978.70" y1="1793.85" x2="990.00" y2="1793.85" stroke="#000" stroke-width="4.0" stroke-linecap="round"/>
<text class="ts" x="951.34" y="1806.75" font-size="34.70">3</text>
<line x1="978.70" y1="1950.00" x2="990.00" y2="1950.00" stroke="#000" stroke-width="4.0" stroke-linecap="round"/>
<text class="ts" x="951.86" y="1962.90" font-size="34.70">2</text>
<line x1="978.70" y1="2106.15" x2="990.00" y2="2106.15" stroke="#000" stroke-width="4.0" stroke-linecap="round"/>
<text class="ts" x="952.03" y="2119.05" font-size="34.70">1</text>
<text class="ts" x="951.25" y="2275.20" font-size="34.70">0</text>
<text class="ts" x="981.53" y="2297.20" font-size="34.70">0</text>
<line x1="1117.76" y1="2262.30" x2="1117.76" y2="2250.30" stroke="#000" stroke-width="4.0" stroke-linecap="round"/>
<text class="ts" x="1104.89" y="2297.20" font-size="34.70">1<tspan dx="-3.5">0</tspan></text>
<line x1="1245.52" y1="2262.30" x2="1245.52" y2="2250.30" stroke="#000" stroke-width="4.0" stroke-linecap="round"/>
<text class="ts" x="1230.28" y="2297.20" font-size="34.70">20</text>
<line x1="1373.28" y1="2262.30" x2="1373.28" y2="2250.30" stroke="#000" stroke-width="4.0" stroke-linecap="round"/>
<text class="ts" x="1359.56" y="2297.20" font-size="34.70">30</text>
<line x1="1501.04" y1="2262.30" x2="1501.04" y2="2250.30" stroke="#000" stroke-width="4.0" stroke-linecap="round"/>
<text class="ts" x="1487.89" y="2297.20" font-size="34.70">40</text>
<text class="ts" x="1612.30" y="2293.70" font-size="34.70">50</text>
<text class="ts" x="1021.83" y="2337.40" font-size="38.80">Decrease in total score of HAMD-17</text>
<text class="ts" transform="translate(939.20,2164.89) rotate(-90)" font-size="39.74">Decline</text>
<text class="ts" transform="translate(939.20,2032.57) rotate(-90)" font-size="33.86" xml:space="preserve">of cortisol (Log<tspan font-size="17.5" dy="6.3">1<tspan dx="-2.0">0</tspan></tspan><tspan dy="-6.3"> nM)</tspan></text>
<text class="ts" x="1321.77" y="1660.00" font-size="30.73" xml:space="preserve"><tspan class="ti">r</tspan> = -0.198, <tspan class="ti">p</tspan> = 0.106</text>
<text class="ts" x="1481.69" y="1712.70" font-size="40.30">rTMS</text>
</svg>
</body></html>
